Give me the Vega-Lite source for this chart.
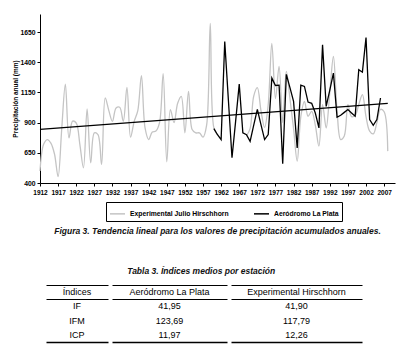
{
  "$schema": "https://vega.github.io/schema/vega-lite/v6.json",
  "padding": {"left": 12, "top": 13, "right": 5, "bottom": 2},
  "datasets": {
    "precip": [
      {"anio": 1912, "estacion": "Experimental Julio Hirschhorn", "tramo": 1, "valor": 500},
      {"anio": 1913, "estacion": "Experimental Julio Hirschhorn", "tramo": 1, "valor": 720},
      {"anio": 1914, "estacion": "Experimental Julio Hirschhorn", "tramo": 1, "valor": 760},
      {"anio": 1915, "estacion": "Experimental Julio Hirschhorn", "tramo": 1, "valor": 730},
      {"anio": 1916, "estacion": "Experimental Julio Hirschhorn", "tramo": 1, "valor": 640},
      {"anio": 1917, "estacion": "Experimental Julio Hirschhorn", "tramo": 1, "valor": 452},
      {"anio": 1918, "estacion": "Experimental Julio Hirschhorn", "tramo": 1, "valor": 850},
      {"anio": 1919, "estacion": "Experimental Julio Hirschhorn", "tramo": 1, "valor": 1219},
      {"anio": 1920, "estacion": "Experimental Julio Hirschhorn", "tramo": 1, "valor": 774},
      {"anio": 1921, "estacion": "Experimental Julio Hirschhorn", "tramo": 1, "valor": 912},
      {"anio": 1922, "estacion": "Experimental Julio Hirschhorn", "tramo": 1, "valor": 897},
      {"anio": 1923, "estacion": "Experimental Julio Hirschhorn", "tramo": 1, "valor": 720},
      {"anio": 1924, "estacion": "Experimental Julio Hirschhorn", "tramo": 1, "valor": 526},
      {"anio": 1925, "estacion": "Experimental Julio Hirschhorn", "tramo": 1, "valor": 1013},
      {"anio": 1926, "estacion": "Experimental Julio Hirschhorn", "tramo": 1, "valor": 567},
      {"anio": 1927, "estacion": "Experimental Julio Hirschhorn", "tramo": 1, "valor": 815},
      {"anio": 1928, "estacion": "Experimental Julio Hirschhorn", "tramo": 1, "valor": 800},
      {"anio": 1929, "estacion": "Experimental Julio Hirschhorn", "tramo": 1, "valor": 554},
      {"anio": 1930, "estacion": "Experimental Julio Hirschhorn", "tramo": 1, "valor": 1104},
      {"anio": 1931, "estacion": "Experimental Julio Hirschhorn", "tramo": 1, "valor": 1000},
      {"anio": 1932, "estacion": "Experimental Julio Hirschhorn", "tramo": 1, "valor": 911},
      {"anio": 1933, "estacion": "Experimental Julio Hirschhorn", "tramo": 1, "valor": 1021},
      {"anio": 1934, "estacion": "Experimental Julio Hirschhorn", "tramo": 1, "valor": 1027},
      {"anio": 1935, "estacion": "Experimental Julio Hirschhorn", "tramo": 1, "valor": 911},
      {"anio": 1936, "estacion": "Experimental Julio Hirschhorn", "tramo": 1, "valor": 1192},
      {"anio": 1937, "estacion": "Experimental Julio Hirschhorn", "tramo": 1, "valor": 780},
      {"anio": 1938, "estacion": "Experimental Julio Hirschhorn", "tramo": 1, "valor": 911},
      {"anio": 1939, "estacion": "Experimental Julio Hirschhorn", "tramo": 1, "valor": 1000},
      {"anio": 1940, "estacion": "Experimental Julio Hirschhorn", "tramo": 1, "valor": 1289},
      {"anio": 1941, "estacion": "Experimental Julio Hirschhorn", "tramo": 1, "valor": 856},
      {"anio": 1942, "estacion": "Experimental Julio Hirschhorn", "tramo": 1, "valor": 760},
      {"anio": 1943, "estacion": "Experimental Julio Hirschhorn", "tramo": 1, "valor": 823},
      {"anio": 1944, "estacion": "Experimental Julio Hirschhorn", "tramo": 1, "valor": 830},
      {"anio": 1945, "estacion": "Experimental Julio Hirschhorn", "tramo": 1, "valor": 900},
      {"anio": 1946, "estacion": "Experimental Julio Hirschhorn", "tramo": 1, "valor": 1305},
      {"anio": 1947, "estacion": "Experimental Julio Hirschhorn", "tramo": 1, "valor": 576},
      {"anio": 1948, "estacion": "Experimental Julio Hirschhorn", "tramo": 1, "valor": 1008},
      {"anio": 1949, "estacion": "Experimental Julio Hirschhorn", "tramo": 1, "valor": 900},
      {"anio": 1950, "estacion": "Experimental Julio Hirschhorn", "tramo": 1, "valor": 1060},
      {"anio": 1951, "estacion": "Experimental Julio Hirschhorn", "tramo": 1, "valor": 1118},
      {"anio": 1952, "estacion": "Experimental Julio Hirschhorn", "tramo": 1, "valor": 815},
      {"anio": 1953, "estacion": "Experimental Julio Hirschhorn", "tramo": 1, "valor": 1159},
      {"anio": 1954, "estacion": "Experimental Julio Hirschhorn", "tramo": 1, "valor": 843},
      {"anio": 1955, "estacion": "Experimental Julio Hirschhorn", "tramo": 1, "valor": 815},
      {"anio": 1956, "estacion": "Experimental Julio Hirschhorn", "tramo": 1, "valor": 815},
      {"anio": 1957, "estacion": "Experimental Julio Hirschhorn", "tramo": 1, "valor": 780},
      {"anio": 1958, "estacion": "Experimental Julio Hirschhorn", "tramo": 1, "valor": 880},
      {"anio": 1959, "estacion": "Experimental Julio Hirschhorn", "tramo": 1, "valor": 1722},
      {"anio": 1960, "estacion": "Experimental Julio Hirschhorn", "tramo": 1, "valor": 856},
      {"anio": 1961, "estacion": "Experimental Julio Hirschhorn", "tramo": 1, "valor": 800},
      {"anio": 1969, "estacion": "Experimental Julio Hirschhorn", "tramo": 2, "valor": 790},
      {"anio": 1970, "estacion": "Experimental Julio Hirschhorn", "tramo": 2, "valor": 850},
      {"anio": 1971, "estacion": "Experimental Julio Hirschhorn", "tramo": 2, "valor": 1120},
      {"anio": 1972, "estacion": "Experimental Julio Hirschhorn", "tramo": 2, "valor": 1190},
      {"anio": 1973, "estacion": "Experimental Julio Hirschhorn", "tramo": 2, "valor": 1000},
      {"anio": 1974, "estacion": "Experimental Julio Hirschhorn", "tramo": 2, "valor": 860},
      {"anio": 1975, "estacion": "Experimental Julio Hirschhorn", "tramo": 2, "valor": 1050},
      {"anio": 1976, "estacion": "Experimental Julio Hirschhorn", "tramo": 2, "valor": 1557},
      {"anio": 1977, "estacion": "Experimental Julio Hirschhorn", "tramo": 2, "valor": 1099},
      {"anio": 1978, "estacion": "Experimental Julio Hirschhorn", "tramo": 2, "valor": 1365},
      {"anio": 1979, "estacion": "Experimental Julio Hirschhorn", "tramo": 2, "valor": 900},
      {"anio": 1980, "estacion": "Experimental Julio Hirschhorn", "tramo": 2, "valor": 1324},
      {"anio": 1981, "estacion": "Experimental Julio Hirschhorn", "tramo": 2, "valor": 1100},
      {"anio": 1982, "estacion": "Experimental Julio Hirschhorn", "tramo": 2, "valor": 850},
      {"anio": 1983, "estacion": "Experimental Julio Hirschhorn", "tramo": 2, "valor": 581},
      {"anio": 1984, "estacion": "Experimental Julio Hirschhorn", "tramo": 2, "valor": 950},
      {"anio": 1985, "estacion": "Experimental Julio Hirschhorn", "tramo": 2, "valor": 1076},
      {"anio": 1986, "estacion": "Experimental Julio Hirschhorn", "tramo": 2, "valor": 953},
      {"anio": 1987, "estacion": "Experimental Julio Hirschhorn", "tramo": 2, "valor": 994},
      {"anio": 1988, "estacion": "Experimental Julio Hirschhorn", "tramo": 2, "valor": 880},
      {"anio": 1989, "estacion": "Experimental Julio Hirschhorn", "tramo": 2, "valor": 705},
      {"anio": 1990, "estacion": "Experimental Julio Hirschhorn", "tramo": 2, "valor": 1050},
      {"anio": 1991, "estacion": "Experimental Julio Hirschhorn", "tramo": 2, "valor": 856},
      {"anio": 1992, "estacion": "Experimental Julio Hirschhorn", "tramo": 2, "valor": 1150},
      {"anio": 1993, "estacion": "Experimental Julio Hirschhorn", "tramo": 2, "valor": 1448},
      {"anio": 1994, "estacion": "Experimental Julio Hirschhorn", "tramo": 2, "valor": 1000},
      {"anio": 1995, "estacion": "Experimental Julio Hirschhorn", "tramo": 2, "valor": 760},
      {"anio": 1996, "estacion": "Experimental Julio Hirschhorn", "tramo": 2, "valor": 790},
      {"anio": 1997, "estacion": "Experimental Julio Hirschhorn", "tramo": 2, "valor": 1049},
      {"anio": 1998, "estacion": "Experimental Julio Hirschhorn", "tramo": 2, "valor": 950},
      {"anio": 1999, "estacion": "Experimental Julio Hirschhorn", "tramo": 2, "valor": 960},
      {"anio": 2000, "estacion": "Experimental Julio Hirschhorn", "tramo": 2, "valor": 1050},
      {"anio": 2001, "estacion": "Experimental Julio Hirschhorn", "tramo": 2, "valor": 1132},
      {"anio": 2002, "estacion": "Experimental Julio Hirschhorn", "tramo": 2, "valor": 950},
      {"anio": 2003, "estacion": "Experimental Julio Hirschhorn", "tramo": 2, "valor": 830},
      {"anio": 2004, "estacion": "Experimental Julio Hirschhorn", "tramo": 2, "valor": 807},
      {"anio": 2005, "estacion": "Experimental Julio Hirschhorn", "tramo": 2, "valor": 900},
      {"anio": 2006, "estacion": "Experimental Julio Hirschhorn", "tramo": 2, "valor": 1010},
      {"anio": 2007, "estacion": "Experimental Julio Hirschhorn", "tramo": 2, "valor": 990},
      {"anio": 2008, "estacion": "Experimental Julio Hirschhorn", "tramo": 2, "valor": 664},
      {"anio": 1960, "estacion": "Aeródromo La Plata", "tramo": 1, "valor": 850},
      {"anio": 1961, "estacion": "Aeródromo La Plata", "tramo": 1, "valor": 800},
      {"anio": 1962, "estacion": "Aeródromo La Plata", "tramo": 1, "valor": 760},
      {"anio": 1963, "estacion": "Aeródromo La Plata", "tramo": 1, "valor": 1572},
      {"anio": 1964, "estacion": "Aeródromo La Plata", "tramo": 1, "valor": 1090},
      {"anio": 1965, "estacion": "Aeródromo La Plata", "tramo": 1, "valor": 609},
      {"anio": 1966, "estacion": "Aeródromo La Plata", "tramo": 1, "valor": 910},
      {"anio": 1967, "estacion": "Aeródromo La Plata", "tramo": 1, "valor": 1219},
      {"anio": 1968, "estacion": "Aeródromo La Plata", "tramo": 1, "valor": 815},
      {"anio": 1969, "estacion": "Aeródromo La Plata", "tramo": 1, "valor": 800},
      {"anio": 1970, "estacion": "Aeródromo La Plata", "tramo": 1, "valor": 745},
      {"anio": 1971, "estacion": "Aeródromo La Plata", "tramo": 1, "valor": 880},
      {"anio": 1972, "estacion": "Aeródromo La Plata", "tramo": 1, "valor": 1010},
      {"anio": 1973, "estacion": "Aeródromo La Plata", "tramo": 1, "valor": 884},
      {"anio": 1974, "estacion": "Aeródromo La Plata", "tramo": 1, "valor": 760},
      {"anio": 1975, "estacion": "Aeródromo La Plata", "tramo": 1, "valor": 801},
      {"anio": 1976, "estacion": "Aeródromo La Plata", "tramo": 1, "valor": 1269},
      {"anio": 1977, "estacion": "Aeródromo La Plata", "tramo": 1, "valor": 1208},
      {"anio": 1978, "estacion": "Aeródromo La Plata", "tramo": 1, "valor": 1210},
      {"anio": 1979, "estacion": "Aeródromo La Plata", "tramo": 1, "valor": 560},
      {"anio": 1980, "estacion": "Aeródromo La Plata", "tramo": 1, "valor": 1300},
      {"anio": 1981, "estacion": "Aeródromo La Plata", "tramo": 1, "valor": 1190},
      {"anio": 1982, "estacion": "Aeródromo La Plata", "tramo": 1, "valor": 1076},
      {"anio": 1983, "estacion": "Aeródromo La Plata", "tramo": 1, "valor": 691},
      {"anio": 1984, "estacion": "Aeródromo La Plata", "tramo": 1, "valor": 1210},
      {"anio": 1985, "estacion": "Aeródromo La Plata", "tramo": 1, "valor": 1200},
      {"anio": 1986, "estacion": "Aeródromo La Plata", "tramo": 1, "valor": 1070},
      {"anio": 1987, "estacion": "Aeródromo La Plata", "tramo": 1, "valor": 1060},
      {"anio": 1988, "estacion": "Aeródromo La Plata", "tramo": 1, "valor": 980},
      {"anio": 1989, "estacion": "Aeródromo La Plata", "tramo": 1, "valor": 856},
      {"anio": 1990, "estacion": "Aeródromo La Plata", "tramo": 1, "valor": 1544},
      {"anio": 1991, "estacion": "Aeródromo La Plata", "tramo": 1, "valor": 1035},
      {"anio": 1992, "estacion": "Aeródromo La Plata", "tramo": 1, "valor": 1170},
      {"anio": 1993, "estacion": "Aeródromo La Plata", "tramo": 1, "valor": 1310},
      {"anio": 1994, "estacion": "Aeródromo La Plata", "tramo": 1, "valor": 945},
      {"anio": 1995, "estacion": "Aeródromo La Plata", "tramo": 1, "valor": 961},
      {"anio": 1996, "estacion": "Aeródromo La Plata", "tramo": 1, "valor": 985},
      {"anio": 1997, "estacion": "Aeródromo La Plata", "tramo": 1, "valor": 1008},
      {"anio": 1998, "estacion": "Aeródromo La Plata", "tramo": 1, "valor": 980},
      {"anio": 1999, "estacion": "Aeródromo La Plata", "tramo": 1, "valor": 953},
      {"anio": 2000, "estacion": "Aeródromo La Plata", "tramo": 1, "valor": 1338},
      {"anio": 2001, "estacion": "Aeródromo La Plata", "tramo": 1, "valor": 1318},
      {"anio": 2002, "estacion": "Aeródromo La Plata", "tramo": 1, "valor": 1605},
      {"anio": 2003, "estacion": "Aeródromo La Plata", "tramo": 1, "valor": 925},
      {"anio": 2004, "estacion": "Aeródromo La Plata", "tramo": 1, "valor": 878},
      {"anio": 2005, "estacion": "Aeródromo La Plata", "tramo": 1, "valor": 925},
      {"anio": 2006, "estacion": "Aeródromo La Plata", "tramo": 1, "valor": 1104}
    ],
    "tendencia": [
      {"anio": 1912, "valor": 845},
      {"anio": 2008, "valor": 1059}
    ],
    "tabla": [
      {"fila": "Índices", "columna": "Índices", "texto": "Índices"},
      {"fila": "Índices", "columna": "Aeródromo La Plata", "texto": "Aeródromo La Plata"},
      {"fila": "Índices", "columna": "Experimental Hirschhorn", "texto": "Experimental Hirschhorn"},
      {"fila": "IF", "columna": "Índices", "texto": "IF"},
      {"fila": "IF", "columna": "Aeródromo La Plata", "texto": "41,95"},
      {"fila": "IF", "columna": "Experimental Hirschhorn", "texto": "41,90"},
      {"fila": "IFM", "columna": "Índices", "texto": "IFM"},
      {"fila": "IFM", "columna": "Aeródromo La Plata", "texto": "123,69"},
      {"fila": "IFM", "columna": "Experimental Hirschhorn", "texto": "117,79"},
      {"fila": "ICP", "columna": "Índices", "texto": "ICP"},
      {"fila": "ICP", "columna": "Aeródromo La Plata", "texto": "11,97"},
      {"fila": "ICP", "columna": "Experimental Hirschhorn", "texto": "12,26"}
    ]
  },
  "spacing": 31,
  "resolve": {"scale": {"color": "independent"}, "legend": {"color": "independent"}},
  "vconcat": [
    {
      "width": 355,
      "height": 169,
      "title": {
        "text": "Figura 3. Tendencia lineal para los valores de precipitación acumulados anuales.",
        "orient": "bottom",
        "anchor": "middle",
        "offset": 5,
        "fontSize": 8.5,
        "fontStyle": "italic",
        "fontWeight": "bold",
        "font": "Liberation Sans",
        "color": "#111111"
      },
      "encoding": {
        "x": {
          "field": "anio",
          "type": "quantitative",
          "scale": {"domain": [1912, 2010], "nice": false, "zero": false},
          "axis": {
            "title": null,
            "values": [1912, 1917, 1922, 1927, 1932, 1937, 1942, 1947, 1952, 1957, 1962, 1967, 1972, 1977, 1982, 1987, 1992, 1997, 2002, 2007],
            "format": "d",
            "grid": false,
            "tickSize": 3,
            "labelPadding": 3,
            "labelFontSize": 6.5,
            "labelFontWeight": "bold",
            "labelFlush": false,
            "labelOverlap": false,
            "domainColor": "#000000",
            "tickColor": "#000000",
            "labelColor": "#000000"
          }
        },
        "y": {
          "field": "valor",
          "type": "quantitative",
          "scale": {"domain": [400, 1800], "nice": false, "zero": false},
          "axis": {
            "title": "Precipitación anual (mm)",
            "values": [400, 650, 900, 1150, 1400, 1650],
            "format": "d",
            "grid": false,
            "tickSize": 3,
            "labelPadding": 2,
            "labelFontSize": 6.8,
            "labelFontWeight": "bold",
            "labelOverlap": false,
            "titleFontSize": 6.5,
            "titleFontWeight": "bold",
            "titlePadding": 1,
            "domainColor": "#000000",
            "tickColor": "#000000",
            "labelColor": "#000000",
            "titleColor": "#000000"
          }
        }
      },
      "layer": [
        {
          "data": {"name": "precip"},
          "transform": [{"filter": {"field": "estacion", "equal": "Experimental Julio Hirschhorn"}}],
          "mark": {"type": "line", "interpolate": "catmull-rom", "strokeWidth": 1.3},
          "encoding": {
            "detail": {"field": "tramo", "type": "nominal"},
            "color": {
              "field": "estacion",
              "type": "nominal",
              "scale": {"domain": ["Experimental Julio Hirschhorn", "Aeródromo La Plata"], "range": ["#c4c4c4", "#000000"]},
              "legend": {
                "orient": "none",
                "legendX": 66,
                "legendY": 188,
                "direction": "horizontal",
                "title": null,
                "symbolType": "stroke",
                "symbolSize": 225,
                "symbolStrokeWidth": 1.5,
                "labelFontSize": 6.8,
                "labelFontWeight": "bold",
                "labelFont": "Liberation Sans",
                "labelColor": "black",
                "labelLimit": 200,
                "strokeColor": "black",
                "padding": 3,
                "columnPadding": 22
              }
            }
          }
        },
        {
          "data": {"name": "precip"},
          "transform": [{"filter": {"field": "estacion", "equal": "Aeródromo La Plata"}}],
          "mark": {"type": "line", "strokeWidth": 1.3},
          "encoding": {
            "color": {"field": "estacion", "type": "nominal"}
          }
        },
        {
          "data": {"name": "tendencia"},
          "mark": {"type": "line", "color": "black", "strokeWidth": 1.2}
        }
      ]
    },
    {
      "title": {
        "text": "Tabla 3. Índices medios por estación",
        "anchor": "middle",
        "offset": 9,
        "fontSize": 8.5,
        "fontStyle": "italic",
        "fontWeight": "bold",
        "font": "Liberation Sans",
        "color": "#111111"
      },
      "spacing": 2,
      "hconcat": [
        {
          "width": 3,
          "height": 57,
          "data": {"values": []},
          "mark": "text"
        },
        {
          "width": 62,
          "height": 57,
          "data": {"name": "tabla"},
          "transform": [{"filter": {"field": "columna", "equal": "Índices"}}],
          "mark": {"type": "text", "fontSize": 9, "font": "Liberation Sans", "color": "black"},
          "encoding": {
            "x": {"field": "columna", "type": "nominal", "axis": {"orient": "bottom", "title": null, "labels": false, "ticks": false, "domain": true, "domainColor": "#000000", "domainWidth": 1.3, "grid": false}},
            "y": {"field": "fila", "type": "nominal", "scale": {"type": "band", "domain": ["Índices", "IF", "IFM", "ICP"], "paddingInner": 0, "paddingOuter": 0}, "axis": {"title": null, "labels": false, "ticks": false, "domain": false, "grid": true, "values": ["Índices", "IF"], "bandPosition": 0, "gridColor": "#000000", "gridWidth": 1}},
            "text": {"field": "texto"}
          }
        },
        {
          "width": 115,
          "height": 57,
          "data": {"name": "tabla"},
          "transform": [{"filter": {"field": "columna", "equal": "Aeródromo La Plata"}}],
          "mark": {"type": "text", "fontSize": 9, "font": "Liberation Sans", "color": "black"},
          "encoding": {
            "x": {"field": "columna", "type": "nominal", "axis": {"orient": "bottom", "title": null, "labels": false, "ticks": false, "domain": true, "domainColor": "#000000", "domainWidth": 1.3, "grid": false}},
            "y": {"field": "fila", "type": "nominal", "scale": {"type": "band", "domain": ["Índices", "IF", "IFM", "ICP"], "paddingInner": 0, "paddingOuter": 0}, "axis": {"title": null, "labels": false, "ticks": false, "domain": false, "grid": true, "values": ["Índices", "IF"], "bandPosition": 0, "gridColor": "#000000", "gridWidth": 1}},
            "text": {"field": "texto"}
          }
        },
        {
          "width": 131,
          "height": 57,
          "data": {"name": "tabla"},
          "transform": [{"filter": {"field": "columna", "equal": "Experimental Hirschhorn"}}],
          "mark": {"type": "text", "fontSize": 9, "font": "Liberation Sans", "color": "black"},
          "encoding": {
            "x": {"field": "columna", "type": "nominal", "axis": {"orient": "bottom", "title": null, "labels": false, "ticks": false, "domain": true, "domainColor": "#000000", "domainWidth": 1.3, "grid": false}},
            "y": {"field": "fila", "type": "nominal", "scale": {"type": "band", "domain": ["Índices", "IF", "IFM", "ICP"], "paddingInner": 0, "paddingOuter": 0}, "axis": {"title": null, "labels": false, "ticks": false, "domain": false, "grid": true, "values": ["Índices", "IF"], "bandPosition": 0, "gridColor": "#000000", "gridWidth": 1}},
            "text": {"field": "texto"}
          }
        }
      ]
    }
  ],
  "config": {
    "view": {"stroke": "transparent"},
    "font": "Liberation Sans"
  }
}
